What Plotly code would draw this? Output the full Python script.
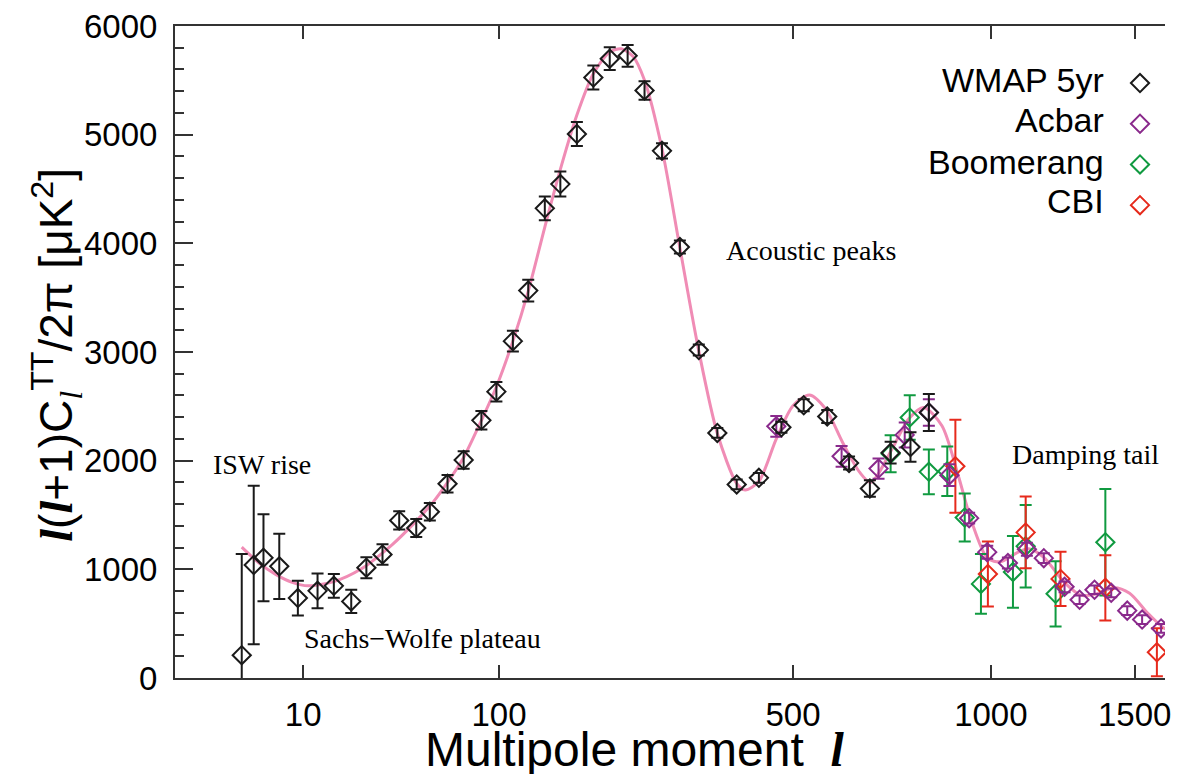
import numpy as np
import plotly.graph_objects as go

# ---------------- data ----------------
wmap_l = [2, 3, 4, 6, 9, 13, 17, 22, 27, 33, 40, 48, 55, 65, 75, 87, 98, 111, 124, 139,
          154, 171, 189, 208, 230, 252, 276, 302, 331, 361, 394, 434, 477, 522, 572, 621,
          670, 721, 772, 821]
wmap_d = [210, 1040, 1106, 1028, 736, 802, 848, 705, 1015, 1137, 1450, 1380, 1530, 1787,
          2006, 2371, 2635, 3100, 3565, 4322, 4545, 5006, 5526, 5699, 5726, 5407, 4851,
          3966, 3018, 2255, 1781, 1842, 2307, 2510, 2407, 1979, 1744, 2073, 2125, 2444]
wmap_e = [930, 730, 400, 300, 160, 160, 110, 106, 97, 94, 84, 83, 80, 80, 80, 85, 90, 95,
          100, 110, 115, 110, 110, 105, 100, 85, 70, 60, 50, 45, 45, 45, 50, 55, 60, 60,
          76, 100, 136, 170]

acbar_l = [467, 604, 691, 757, 821, 878, 935, 989, 1053, 1114, 1170, 1241, 1294, 1348,
           1410, 1471, 1529, 1605]
acbar_d = [2316, 2040, 1927, 2237, 2444, 1866, 1471, 1158, 1058, 1185, 1103, 839, 720,
           812, 784, 620, 538, 456]
acbar_e = [95, 96, 94, 115, 122, 100, 50, 60, 50, 60, 45, 50, 40, 40, 40, 40, 40, 40]

boom_l = [721, 770, 821, 872, 922, 970, 1069, 1110, 1210, 1388]
boom_d = [2064, 2398, 1897, 1903, 1477, 866, 976, 1213, 775, 1250]
boom_e = [171, 205, 205, 228, 220, 275, 330, 380, 300, 490]

cbi_l = [895, 991, 1110, 1227, 1388, 1588]
cbi_d = [1948, 957, 1340, 912, 830, 237]
cbi_e = [428, 300, 330, 250, 300, 220]

model_l = [2, 3.5, 5.5, 8, 11, 17, 25, 37, 47, 57, 65, 75, 87, 98, 111, 124, 139, 154,
           171, 189, 208, 222, 237, 252, 276, 302, 331, 361, 394, 409, 434, 467, 500,
           534, 569, 606, 645, 672, 725, 767, 807, 857, 903, 942, 990, 1030, 1080, 1120,
           1170, 1240, 1300, 1350, 1420, 1480, 1550, 1610, 1660]
model_d = [1204, 1060, 954, 880, 848, 887, 1000, 1228, 1425, 1623, 1800, 2030, 2370, 2680,
           3100, 3560, 4150, 4680, 5180, 5560, 5760, 5790, 5720, 5500, 4870, 3960, 3010,
           2250, 1790, 1730, 1810, 2200, 2505, 2605, 2474, 2170, 1897, 1800, 2110, 2383,
           2490, 2322, 1866, 1441, 1100, 1070, 1150, 1190, 1110, 880, 760, 770, 830, 780,
           600, 470, 410]

tick_l = [10, 100, 500, 1000, 1500]
tick_text = ["10", "100", "500", "1000", "1500"]

series_names = ["WMAP 5yr", "Acbar", "Boomerang", "CBI"]
series_colors = ["#1a1a1a", "#8a2a8c", "#109a40", "#e62a1c"]

POW = 0.4  # the x axis is linear in l**0.4


def sx(l):
    return np.asarray(l, dtype=float) ** POW


LINE = "#333333"
SANS = "Liberation Sans, Arial, Helvetica, sans-serif"
SERIF = "Liberation Serif, Times New Roman, serif"

fig = go.Figure()

fig.add_trace(go.Scatter(x=sx(model_l), y=model_d, mode="lines",
                         line=dict(color="#f08cb5", width=3, shape="spline", smoothing=0.8),
                         showlegend=False, hoverinfo="skip"))

datasets = [
    (boom_l, boom_d, boom_e, 2),
    (cbi_l, cbi_d, cbi_e, 3),
    (acbar_l, acbar_d, acbar_e, 1),
    (wmap_l, wmap_d, wmap_e, 0),
]
for l, d, e, idx in datasets:
    c = series_colors[idx]
    # legend keys only (the names are written as right-aligned text next to them)
    fig.add_trace(go.Scatter(
        x=sx(l), y=d, mode="markers", name="", legendrank=idx + 1,
        marker=dict(symbol="diamond-open", size=14, color=c, line=dict(width=2, color=c)),
        error_y=dict(type="data", array=e, visible=True, color=c, thickness=2, width=6),
    ))

# the page has an 8px body margin: the figure sits at (8, 8); keep it inside the window
OFF = 8
PAGE_W, PAGE_H = 1179, 782
W, H = PAGE_W - 2 * OFF, PAGE_H - 2 * OFF
PL, PT, PB = 175, 20, 678            # plot area edges in page pixels
PR = OFF + W                         # right edge of the plot = right edge of the figure
L, R, T, B = PL - OFF, 0, PT - OFF, OFF + H - PB
pw, ph = PR - PL, PB - PT
U_PER_PX = 1.0 / 51.87              # axis units (l**0.4) per pixel
U0 = 0.025
U1 = U0 + pw * U_PER_PX


def px(x):
    return (x - PL) / pw


def py(y):
    return (PB - y) / ph


ell = '<span style="font-family:Liberation Serif"><b><i>l</i></b></span>'
ells = '<span style="font-family:Liberation Serif"><i>l</i></span>'

annotations = [
    dict(text="ISW rise", x=px(211), y=py(463)),
    dict(text="Sachs\u2212Wolfe plateau", x=px(303), y=py(638)),
    dict(text="Acoustic peaks", x=px(727), y=py(247)),
    dict(text="Damping tail", x=px(1015), y=py(452)),
]
ann = []
for a in annotations:
    ann.append(dict(text=a["text"], x=a["x"], y=a["y"], xref="paper", yref="paper",
                    xanchor="left", yanchor="middle", showarrow=False,
                    font=dict(family=SERIF, size=28, color="black")))

rows_y = [75, 115, 157, 197]
for name, yy in zip(series_names, rows_y):
    ann.append(dict(text=name, x=px(1112), y=py(yy), xref="paper", yref="paper",
                    xanchor="right", yanchor="middle", showarrow=False,
                    font=dict(family=SANS, size=34, color="black")))

ann.append(dict(text=ell + "(" + ell + "+1)C<sub>" + ells + "</sub><sup>TT</sup>/2\u03c0 [\u03bcK<sup>2</sup>]",
                x=px(56), y=py(352), xref="paper", yref="paper", textangle=-90,
                xanchor="center", yanchor="middle", showarrow=False,
                font=dict(family=SANS, size=46, color="black")))
ann.append(dict(text="Multipole moment  " + ell, x=px(638), y=py(750), xref="paper",
                yref="paper", xanchor="center", yanchor="middle", showarrow=False,
                font=dict(family=SANS, size=48, color="black")))

fig.update_layout(
    width=W, height=H, margin=dict(l=L, r=R, t=T, b=B, pad=0),
    paper_bgcolor="white", plot_bgcolor="white",
    font=dict(family=SANS, size=32, color="black"),
    showlegend=True,
    # right-anchored at the plot edge so it never pushes the margins
    legend=dict(x=1.0, y=py(52), xanchor="right", yanchor="top",
                bgcolor="rgba(0,0,0,0)", borderwidth=0, font=dict(size=29),
                tracegroupgap=0),
    annotations=ann,
    xaxis=dict(range=[U0, U1], tickvals=sx(tick_l), ticktext=tick_text,
               showgrid=False, zeroline=False, showline=True, linecolor=LINE, linewidth=2,
               mirror="ticks", ticks="inside", ticklen=13, tickwidth=2, tickcolor=LINE,
               ticklabelstandoff=6, ticklabeloverflow="allow", tickfont=dict(size=33)),
    yaxis=dict(range=[0, 6000], dtick=1000, tick0=0, showgrid=False, zeroline=False,
               showline=True, linecolor=LINE, linewidth=2, mirror=False,
               ticks="inside", ticklen=18, tickwidth=2, tickcolor=LINE,
               minor=dict(dtick=200, ticks="inside", ticklen=9, tickwidth=2, tickcolor=LINE,
                          showgrid=False),
               ticklabelstandoff=9, ticklabeloverflow="allow", tickfont=dict(size=33)),
)

fig.write_html("out.html")
